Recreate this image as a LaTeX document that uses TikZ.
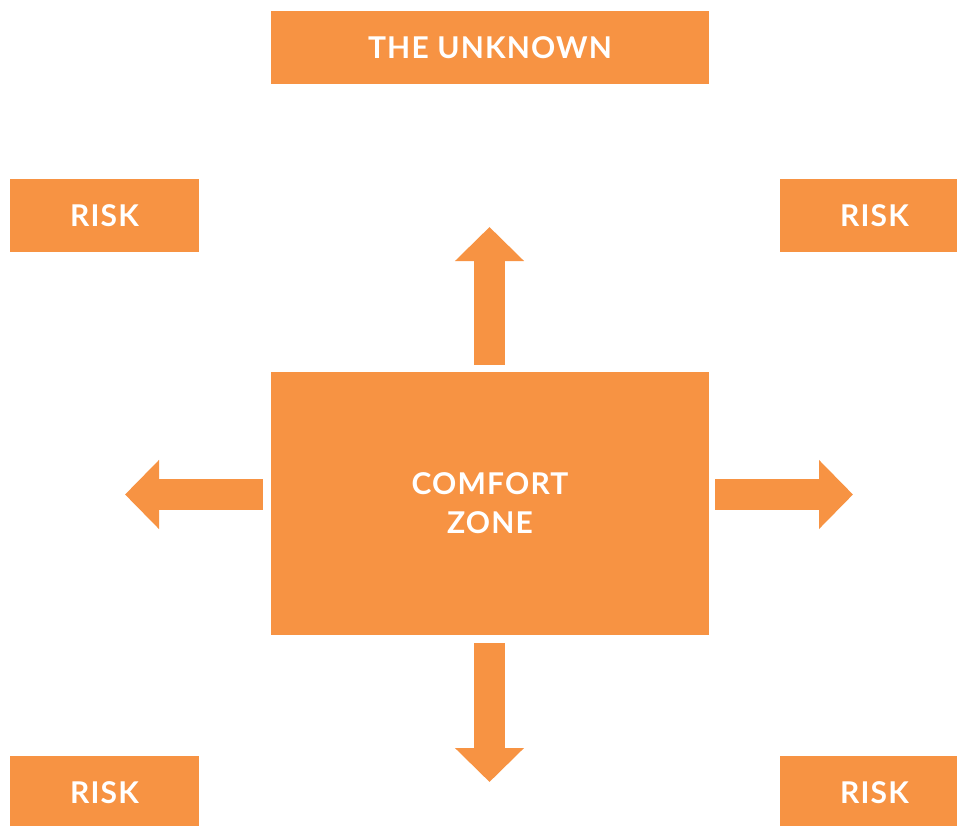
\documentclass[tikz,border=0pt]{standalone}
\usepackage{fontspec}
\setmainfont{Lato}[LetterSpace=4]
\usetikzlibrary{arrows.meta}
\definecolor{zoneorange}{HTML}{F79343}

\begin{document}
\begin{tikzpicture}[x=1pt, y=-1pt,
	box/.style={fill=zoneorange, text=white, inner sep=0pt, align=center,
		font=\fontsize{30}{39}\selectfont\bfseries},
	riskbox/.style={box, minimum width=189pt, minimum height=73pt},
	bigarrow/.style={color=zoneorange, line width=31pt, -{Triangle[length=34pt,width=67pt]}}]
\useasboundingbox (0,0) rectangle (957,825);

\node[box, minimum width=438pt, minimum height=73pt] (unknown) at (490,47.5) {THE UNKNOWN};
\node[box, minimum width=438pt, minimum height=263pt] (cz) at (490,503.5) {COMFORT\\ZONE};

\node[riskbox] (riskTL) at (104.5,215.5) {RISK};
\node[riskbox] (riskTR) at (874.5,215.5) {RISK};
\node[riskbox] (riskBL) at (104.5,792.5) {RISK};
\node[riskbox] (riskBR) at (874.5,792.5) {RISK};

% tips of the four arrows
\coordinate (upTip) at (489.5,227);
\coordinate (downTip) at (489.5,782);
\coordinate (leftTip) at (125,494.5);
\coordinate (rightTip) at (853,494.5);

\path[bigarrow]
(cz.north -| upTip) edge[shorten <=7pt] (upTip)
(cz.south -| downTip) edge[shorten <=8pt] (downTip)
(cz.west |- leftTip) edge[shorten <=8pt] (leftTip)
(cz.east |- rightTip) edge[shorten <=6pt] (rightTip)
;
\end{tikzpicture}
\end{document}
